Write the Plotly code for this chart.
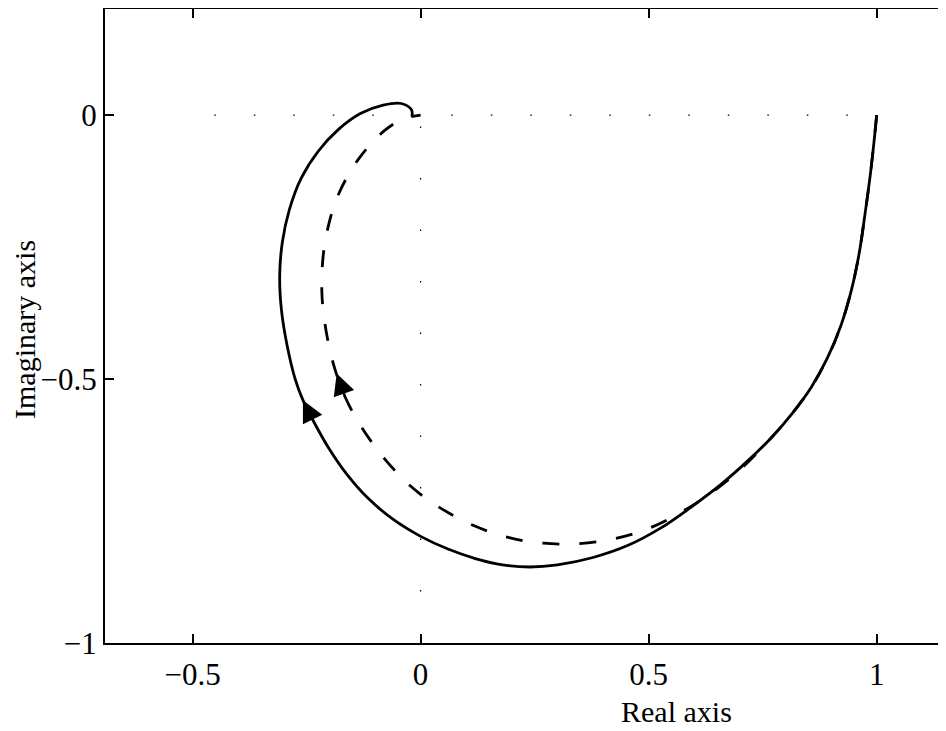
import plotly.graph_objects as go

# Solid Nyquist curve (real, imaginary), from omega=0 at (1,0) to origin
solid_re = [1.0, 0.993, 0.985, 0.974, 0.962, 0.945, 0.921, 0.892, 0.857, 0.815,
            0.768, 0.716, 0.658, 0.594, 0.527, 0.455, 0.378, 0.300, 0.240, 0.180,
            0.120, 0.060, 0.0, -0.060, -0.115, -0.162, -0.202, -0.236, -0.258,
            -0.275, -0.293, -0.305, -0.309, -0.303, -0.288, -0.262, -0.224, -0.180,
            -0.132, -0.082, -0.042, -0.020, -0.019]
solid_im = [0.0, -0.060, -0.120, -0.190, -0.260, -0.330, -0.400, -0.460, -0.515, -0.565,
            -0.612, -0.656, -0.700, -0.742, -0.782, -0.815, -0.838, -0.852, -0.856, -0.852,
            -0.840, -0.822, -0.798, -0.766, -0.726, -0.680, -0.630, -0.578, -0.540,
            -0.500, -0.435, -0.370, -0.305, -0.240, -0.180, -0.120, -0.068, -0.027,
            0.003, 0.019, 0.022, 0.010, -0.003]

# Dashed Nyquist curve
dashed_re = [1.0, 0.993, 0.985, 0.974, 0.962, 0.945, 0.921, 0.892, 0.857, 0.815,
             0.768, 0.705, 0.640, 0.570, 0.497, 0.422, 0.345, 0.269, 0.192, 0.115,
             0.043, -0.019, -0.078, -0.128, -0.165, -0.190, -0.207, -0.216, -0.215,
             -0.205, -0.180, -0.135, -0.080, -0.040, 0.0]
dashed_im = [0.0, -0.060, -0.120, -0.190, -0.260, -0.330, -0.400, -0.460, -0.515, -0.565,
             -0.612, -0.668, -0.714, -0.753, -0.784, -0.803, -0.812, -0.811, -0.800, -0.777,
             -0.744, -0.705, -0.652, -0.593, -0.535, -0.475, -0.410, -0.345, -0.280,
             -0.220, -0.150, -0.082, -0.030, -0.008, 0.0]

x_ticks = [-0.5, 0, 0.5, 1]
x_labels = ["\u22120.5", "0", "0.5", "1"]
y_ticks = [-1, -0.5, 0]
y_labels = ["\u22121", "\u22120.5", "0"]

x_range = [-0.692, 1.152]
y_range = [-1.0, 0.201]

SOLID_ARROW_IDX = 28
DASHED_ARROW_IDX = 25

fig = go.Figure()
fig.add_trace(go.Scatter(x=solid_re, y=solid_im, mode="lines",
                         line=dict(color="black", width=2.8, shape="spline", smoothing=1.0),
                         showlegend=False, hoverinfo="skip"))
fig.add_trace(go.Scatter(x=dashed_re, y=dashed_im, mode="lines",
                         line=dict(color="black", width=2.8, shape="spline", smoothing=1.0,
                                   dash="17px,20px"),
                         showlegend=False, hoverinfo="skip"))

# sparse dotted real and imaginary axes
fig.add_shape(type="line", xref="paper", yref="y", x0=0.13, x1=0.92, y0=0, y1=0,
              line=dict(color="black", width=1.2, dash="1.5px,38px"), layer="below")
fig.add_shape(type="line", xref="x", yref="paper", x0=0, x1=0,
              y0=0.0, y1=(0 - y_range[0]) / (y_range[1] - y_range[0]),
              line=dict(color="black", width=1.2, dash="1.5px,50px"), layer="below")

for idx, (xs, ys), so in [(SOLID_ARROW_IDX, (solid_re, solid_im), 0),
                          (DASHED_ARROW_IDX, (dashed_re, dashed_im), 8)]:
    fig.add_annotation(x=xs[idx], y=ys[idx], ax=xs[idx - 1], ay=ys[idx - 1],
                       xref="x", yref="y", axref="x", ayref="y", text="",
                       showarrow=True, arrowhead=2, arrowsize=1.8, arrowwidth=2.4,
                       arrowcolor="black", standoff=so)

font_family = "Liberation Serif, DejaVu Serif, serif"
axis_common = dict(showline=True, linecolor="black", linewidth=2,
                   ticks="inside", ticklen=9, tickwidth=1.5, tickcolor="black",
                   showgrid=False, zeroline=False, automargin=False,
                   tickfont=dict(family=font_family, size=31, color="black"))

# the page body has an 8px margin, so the figure is sized/offset to compensate
fig.update_layout(
    width=938, height=723,
    margin=dict(l=97, r=0, t=1, b=88, autoexpand=False),
    paper_bgcolor="white", plot_bgcolor="white",
    xaxis=dict(range=x_range, tickvals=x_ticks, ticktext=x_labels, mirror="ticks",
               ticklabelstandoff=3, **axis_common),
    yaxis=dict(range=y_range, tickvals=y_ticks, ticktext=y_labels, mirror=False,
               **axis_common),
)

fig.add_annotation(text="Real axis", xref="paper", yref="paper", x=0.679, y=-0.1088,
                   showarrow=False, xanchor="center", yanchor="middle",
                   font=dict(family=font_family, size=30, color="black"))
fig.add_annotation(text="Imaginary axis", xref="paper", yref="paper", x=-0.0951, y=0.4937,
                   showarrow=False, xanchor="center", yanchor="middle", textangle=-90,
                   font=dict(family=font_family, size=30, color="black"))

fig.write_html("out.html")
